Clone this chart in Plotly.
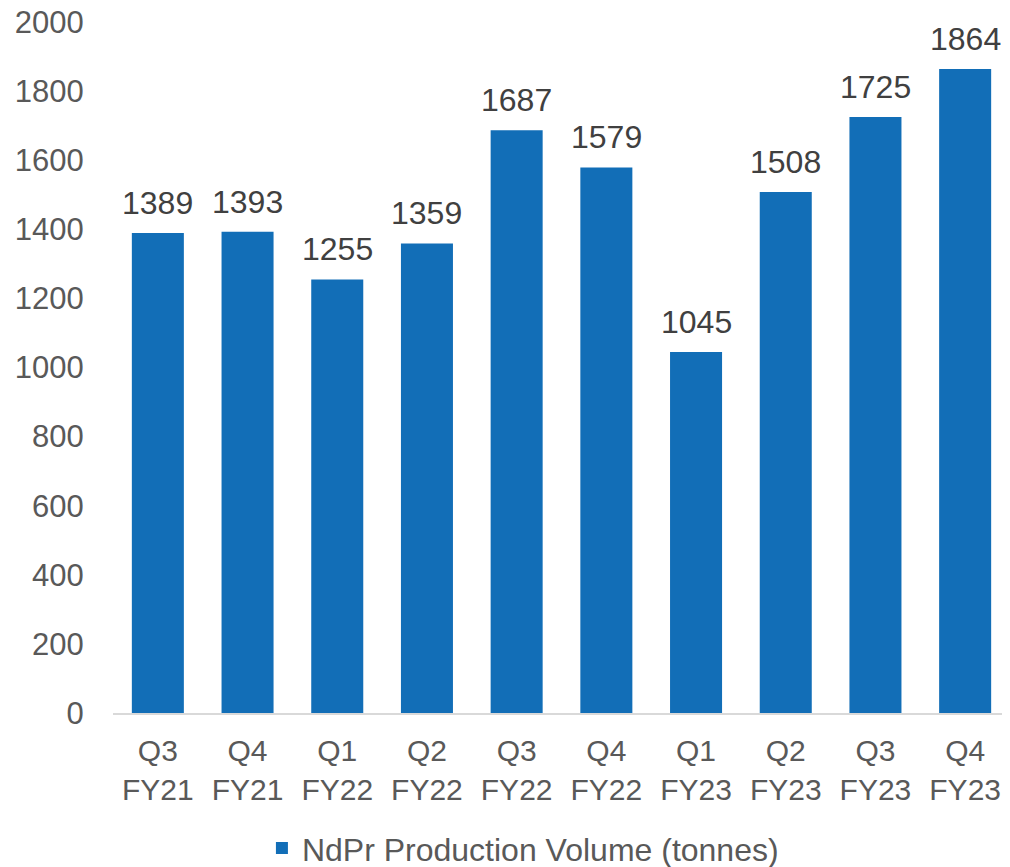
import plotly.graph_objects as go

categories = ["Q3<br>FY21", "Q4<br>FY21", "Q1<br>FY22", "Q2<br>FY22", "Q3<br>FY22",
              "Q4<br>FY22", "Q1<br>FY23", "Q2<br>FY23", "Q3<br>FY23", "Q4<br>FY23"]
values = [1389, 1393, 1255, 1359, 1687, 1579, 1045, 1508, 1725, 1864]
series_name = "NdPr Production Volume (tonnes)"
y_ticks = [0, 200, 400, 600, 800, 1000, 1200, 1400, 1600, 1800, 2000]

FONT = "Liberation Sans, Arial, sans-serif"

fig = go.Figure()
fig.add_trace(go.Bar(
    x=categories, y=values, name=series_name,
    marker=dict(color="#126EB7", line=dict(width=0)),
))

for c, v in zip(categories, values):
    fig.add_annotation(x=c, y=v, text=str(v), showarrow=False,
                       xanchor="center", yanchor="bottom", yshift=10,
                       font=dict(family=FONT, size=32, color="#404040"))

fig.update_layout(
    width=1002, height=859,
    margin=dict(l=105, r=0, t=14, b=154, autoexpand=False),
    paper_bgcolor="white", plot_bgcolor="white",
    bargap=0.42,
    showlegend=True,
    legend=dict(orientation="h", x=0.457, xanchor="center", y=-0.156, yanchor="top",
                font=dict(family=FONT, size=32, color="#595959")),
    font=dict(family=FONT, color="#595959"),
)
fig.update_xaxes(showline=True, linecolor="#D9D9D9", linewidth=2, showgrid=False,
                 tickfont=dict(family=FONT, size=30, color="#595959"),
                 ticks="outside", ticklen=10, tickcolor="rgba(0,0,0,0)",
                 automargin=False)
fig.update_yaxes(range=[0, 2000], tickvals=y_ticks, showgrid=False, zeroline=False,
                 showline=False, ticklabeloverflow="allow",
                 tickfont=dict(family=FONT, size=31, color="#595959"),
                 ticks="outside", ticklen=22, tickcolor="rgba(0,0,0,0)",
                 automargin=False)

fig.write_html("out.html")
